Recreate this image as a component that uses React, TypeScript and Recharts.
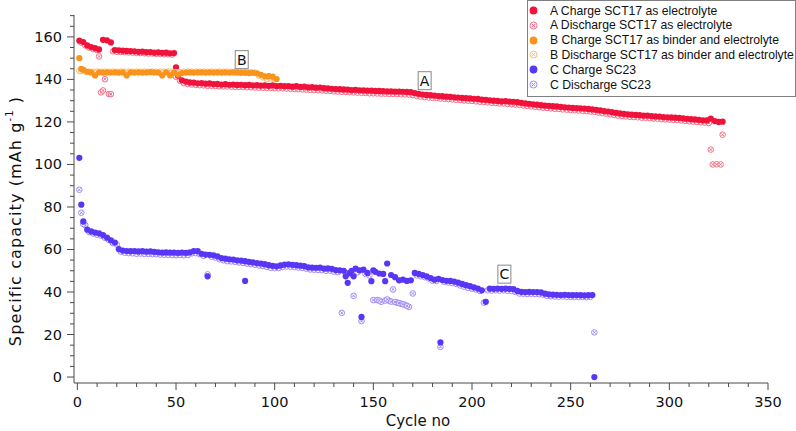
import { ScatterChart, Scatter, XAxis, YAxis, ReferenceDot } from 'recharts';

// x ticks every 10 cycles (labels every 50), y ticks every 5 (labels every 20)
const xTicks = [0, 10, 20, 30, 40, 50, 60, 70, 80, 90, 100, 110, 120, 130, 140, 150, 160, 170, 180, 190, 200, 210, 220, 230, 240, 250, 260, 270, 280, 290, 300, 310, 320, 330, 340, 350];
const yTicks = [0, 5, 10, 15, 20, 25, 30, 35, 40, 45, 50, 55, 60, 65, 70, 75, 80, 85, 90, 95, 100, 105, 110, 115, 120, 125, 130, 135, 140, 145, 150, 155, 160, 165, 170];

// Charge values are read at odd cycles (1, 3, 5 ...), discharge at even cycles (2, 4, 6 ...)
const aCharge = [
  158.2, 157.6, 156.0, 155.2, 154.7, 154.1, 158.6, 158.4, 157.4, 153.8,
  153.7, 153.5, 153.4, 153.3, 153.2, 153.0, 153.1, 152.8, 152.9, 152.6,
  152.7, 152.5, 152.6, 152.3, 152.4, 141.8, 139.6, 139.0, 138.6, 138.5,
  138.2, 138.3, 138.0, 138.1, 137.8, 137.9, 137.6, 137.8, 137.5, 137.6,
  137.4, 137.5, 137.3, 137.4, 137.2, 137.3, 137.1, 137.2, 137.0, 137.2,
  136.9, 137.0, 136.8, 136.9, 136.6, 136.8, 136.5, 136.6, 136.3, 136.4,
  136.1, 136.2, 135.9, 135.8, 135.6, 135.5, 135.4, 135.3, 135.2, 135.0,
  135.1, 134.9, 134.8, 134.7, 134.7, 134.6, 134.6, 134.5, 134.4, 134.4,
  134.3, 134.3, 134.2, 134.1, 134.0, 133.6, 133.2, 132.9, 132.7, 132.6,
  132.4, 132.2, 132.1, 131.9, 131.8, 131.6, 131.5, 131.3, 131.2, 131.1,
  130.9, 130.8, 130.5, 130.4, 130.2, 130.0, 129.9, 129.7, 129.8, 129.6,
  129.5, 129.3, 129.0, 128.7, 128.5, 128.3, 128.1, 127.9, 127.7, 127.6,
  127.4, 127.3, 127.1, 126.9, 126.8, 126.6, 126.5, 126.4, 126.3, 126.1,
  125.9, 125.7, 125.4, 125.1, 124.9, 124.6, 124.3, 124.0, 123.8, 123.6,
  123.4, 123.3, 123.2, 123.0, 123.0, 122.8, 122.6, 122.5, 122.3, 122.2,
  122.1, 122.0, 121.9, 121.7, 121.5, 121.3, 121.2, 121.0, 120.8, 120.7,
  121.6, 120.4, 120.0,
];
const aChargeExtra = [[50, 145.7], [327, 120.1]];

const aDischarge = [
  157.3, 156.0, 155.0, 154.3, 153.8, 133.9, 140.1, 133.1, 153.2, 153.0,
  152.9, 152.8, 152.7, 152.6, 152.5, 152.4, 152.3, 152.2, 152.2, 152.0,
  152.0, 151.9, 151.8, 151.7, 141.3, 139.4, 138.2, 137.8, 137.6, 137.4,
  137.3, 137.2, 137.0, 137.0, 136.9, 136.8, 136.7, 136.7, 136.6, 136.5,
  136.5, 136.4, 136.3, 136.3, 136.2, 136.1, 136.1, 136.0, 136.0, 135.9,
  135.8, 135.8, 135.7, 135.6, 135.5, 135.4, 135.3, 135.2, 135.1, 135.0,
  134.9, 134.8, 134.7, 134.6, 134.4, 134.3, 134.2, 134.1, 134.0, 133.9,
  133.8, 133.7, 133.6, 133.5, 133.5, 133.4, 133.3, 133.3, 133.2, 133.2,
  133.1, 133.0, 133.0, 132.9, 132.6, 132.2, 131.9, 131.7, 131.5, 131.3,
  131.2, 131.0, 130.9, 130.7, 130.6, 130.4, 130.3, 130.1, 130.0, 129.9,
  129.7, 129.5, 129.4, 129.2, 129.0, 128.9, 128.7, 128.7, 128.5, 128.4,
  128.2, 128.0, 127.7, 127.5, 127.3, 127.1, 126.9, 126.7, 126.6, 126.4,
  126.2, 126.1, 125.9, 125.8, 125.6, 125.5, 125.4, 125.2, 125.1, 124.9,
  124.7, 124.4, 124.1, 123.9, 123.6, 123.3, 123.0, 122.8, 122.6, 122.4,
  122.3, 122.2, 122.0, 122.0, 121.8, 121.6, 121.5, 121.3, 121.2, 121.1,
  121.0, 120.9, 120.7, 120.5, 120.3, 120.2, 120.0, 119.8, 119.7, 119.5,
  100.0, 100.1, 100.0,
];
const aDischargeExtra = [[11, 150.8], [13, 134.8], [17, 133.1], [321, 107.0], [327, 114.0]];

const bCharge = [
  150.0, 144.5, 143.6, 143.3, 141.9, 143.3, 143.2, 143.3, 143.2, 143.3,
  143.2, 143.3, 141.9, 143.3, 143.2, 143.3, 143.2, 143.3, 143.4, 143.3,
  143.2, 141.9, 143.3, 141.9, 143.2, 142.3, 143.0, 143.2, 143.3, 143.2,
  143.3, 143.3, 143.2, 143.3, 143.2, 143.3, 143.2, 143.3, 143.2, 143.3,
  143.2, 143.1, 143.1, 143.0, 143.1, 142.9, 142.2, 141.5, 141.6, 141.3,
  140.2,
];
const bChargeExtra = [[2, 145.0]];

const bDischarge = [
  143.9, 143.7, 143.7, 143.6, 143.7, 143.6, 143.7, 143.6, 143.7, 143.6,
  143.7, 143.6, 143.7, 143.6, 143.7, 143.6, 143.7, 143.6, 143.7, 143.6,
  143.7, 143.6, 143.7, 143.6, 143.5, 143.4, 143.6, 143.7, 143.6, 143.7,
  143.6, 143.7, 143.6, 143.7, 143.6, 143.7, 143.6, 143.7, 143.6, 143.6,
  143.5, 143.5, 143.4, 143.4, 143.2, 141.8, 141.0, 140.2, 140.5, 140.0,
];
const bDischargeExtra = [[1, 144.0]];

const cCharge = [
  103.1, 73.2, 69.3, 68.5, 68.0, 67.6, 66.8, 65.6, 64.3, 63.3,
  60.2, 59.5, 59.3, 59.2, 59.3, 59.1, 59.2, 59.0, 59.1, 58.9,
  58.7, 58.5, 58.6, 58.5, 58.5, 58.4, 58.5, 58.4, 58.6, 59.3,
  59.2, 58.0, 57.6, 57.5, 57.3, 56.8, 56.0, 55.7, 55.4, 55.3,
  54.9, 54.8, 54.5, 54.2, 53.9, 53.6, 53.4, 53.1, 52.6, 52.3,
  52.1, 52.5, 52.9, 53.0, 52.8, 52.6, 52.4, 52.2, 51.6, 51.5,
  51.4, 51.5, 51.0, 51.1, 50.9, 50.3, 50.2, 50.0, 44.3, 50.0,
  51.0, 50.2, 50.5, 49.0, 45.1, 49.5, 48.7, 48.5, 53.4, 48.0,
  47.0, 45.5, 45.8, 45.2, 45.5, 49.0, 48.5, 48.0, 47.4, 46.6,
  45.8, 46.2, 45.6, 45.3, 45.2, 44.9, 44.4, 43.8, 43.2, 42.8,
  42.2, 41.6, 40.8, 35.4, 41.6, 41.5, 41.6, 41.5, 41.6, 41.5,
  41.4, 40.5, 40.1, 40.0, 40.1, 40.0, 40.0, 39.8, 39.2, 38.9,
  38.8, 38.7, 38.6, 38.7, 38.6, 38.5, 38.6, 38.5, 38.4, 38.5,
  38.6,
];
const cChargeExtra = [[2, 81.1], [66, 47.4], [85, 45.2], [136, 47.4], [138, 49.0], [140, 47.4], [144, 28.3], [150, 50.2], [156, 45.1], [184, 16.3], [262, 0]];

const cDischarge = [
  77.3, 71.5, 68.2, 67.5, 67.0, 66.5, 65.5, 64.5, 63.0, 62.3,
  59.0, 58.5, 58.3, 58.2, 58.0, 58.1, 57.9, 57.9, 57.8, 57.8,
  57.6, 57.5, 57.5, 57.4, 57.3, 57.4, 57.3, 57.4, 58.2, 58.3,
  57.8, 57.0, 48.3, 56.6, 56.2, 55.4, 54.9, 54.5, 54.4, 54.2,
  53.9, 53.7, 53.4, 53.1, 52.8, 52.5, 52.2, 51.8, 51.4, 51.2,
  51.3, 51.8, 52.0, 51.9, 51.7, 51.5, 51.3, 51.0, 50.6, 50.5,
  50.4, 50.3, 50.0, 50.1, 49.6, 49.3, 30.2, 48.8, 48.5, 38.2,
  49.3, 26.3, 48.5, 47.8, 36.2, 36.2, 35.4, 36.0, 35.9, 41.2,
  35.0, 34.5, 34.0, 33.0, 39.3, 47.8, 47.4, 47.0, 46.4, 45.3,
  45.2, 14.2, 44.8, 44.5, 44.2, 43.8, 43.1, 42.5, 42.0, 41.6,
  41.2, 40.5, 35.0, 40.8, 40.7, 40.8, 40.7, 40.8, 40.6, 40.5,
  40.0, 39.3, 39.2, 39.1, 39.2, 39.1, 39.0, 38.8, 38.2, 38.0,
  37.9, 37.8, 37.9, 37.8, 37.7, 37.7, 37.6, 37.7, 37.6, 37.7,
];
const cDischargeExtra = [[1, 88.1], [3, 72.0], [153, 36.0], [157, 36.5], [159, 35.5], [161, 35.3], [163, 34.8], [165, 34.2], [167, 33.5], [262, 21.0]];

const legendLabels = [
  'A Charge SCT17 as electrolyte',
  'A Discharge SCT17 as electrolyte',
  'B Charge SCT17 as binder and electrolyte',
  'B Discharge SCT17 as binder and electrolyte',
  'C Charge SC23',
  'C Discharge SC23',
];

const RED = '#f0123a';
const PINK = '#f26f88';
const ORANGE = '#f8931c';
const LIGHT_ORANGE = '#fbbc72';
const BLUE = '#5936f5';
const LAVENDER = '#a189f6';
const AXIS = '#4a4a4a';
const FONT = '"DejaVu Sans", sans-serif';

const legendColors = [RED, PINK, ORANGE, LIGHT_ORANGE, BLUE, LAVENDER];

const seq = (start: number, values: number[]) => values.map((y, i) => ({ x: start + 2 * i, y }));
const pairs = (list: number[][]) => list.map(([x, y]) => ({ x, y }));

const aChargeData = [...seq(1, aCharge), ...pairs(aChargeExtra)];
const aDischargeData = [...seq(2, aDischarge), ...pairs(aDischargeExtra)];
const bChargeData = [...seq(1, bCharge), ...pairs(bChargeExtra)];
const bDischargeData = [...seq(2, bDischarge), ...pairs(bDischargeExtra)];
const cChargeData = [...seq(1, cCharge), ...pairs(cChargeExtra)];
const cDischargeData = [...seq(2, cDischarge), ...pairs(cDischargeExtra)];

const dot = (color: string) => (props: any) => (
  <circle cx={props.cx} cy={props.cy} r={3.1} fill={color} />
);

const ring = (color: string) => (props: any) => {
  const { cx, cy } = props;
  return (
    <g stroke={color} strokeWidth={1} fill="none">
      <circle cx={cx} cy={cy} r={2.8} fill="#fff" fillOpacity={0.6} />
      <line x1={cx - 1.3} y1={cy - 1.3} x2={cx + 1.3} y2={cy + 1.3} />
      <line x1={cx - 1.3} y1={cy + 1.3} x2={cx + 1.3} y2={cy - 1.3} />
    </g>
  );
};

const XTick = (props: any) => {
  const { x, y, payload } = props;
  const major = payload.value % 50 === 0;
  return (
    <g>
      <line x1={x} x2={x} y1={y} y2={y + (major ? 7 : 4)} stroke={AXIS} />
      {major && (
        <text x={x} y={y + 24} textAnchor="middle" fontFamily={FONT} fontSize={14.5} fill="#111">
          {payload.value}
        </text>
      )}
    </g>
  );
};

const YTick = (props: any) => {
  const { x, y, payload } = props;
  const major = payload.value % 20 === 0;
  return (
    <g>
      <line x1={x} x2={x - (major ? 7 : 4)} y1={y} y2={y} stroke={AXIS} />
      {major && (
        <text x={x - 12} y={y + 5} textAnchor="end" fontFamily={FONT} fontSize={14.5} fill="#111">
          {payload.value}
        </text>
      )}
    </g>
  );
};

const YTitle = () => (
  <text
    transform="translate(21, 221) rotate(-90)"
    textAnchor="middle"
    fontFamily={FONT}
    fontSize={16}
    letterSpacing={1.1}
    fill="#111"
  >
    Specific capacity (mAh g
    <tspan fontSize={10} dy={-8}>-1</tspan>
    <tspan dy={8}> )</tspan>
  </text>
);

const XTitle = () => (
  <text x={418} y={426} textAnchor="middle" fontFamily={FONT} fontSize={15} fill="#111">
    Cycle no
  </text>
);

const tag = (letter: string) => (props: any) => {
  const { cx, cy } = props;
  return (
    <g>
      <rect x={cx - 6.5} y={cy - 9} width={13} height={18} fill="#fff" stroke="#888" strokeWidth={1} />
      <text x={cx} y={cy + 5} textAnchor="middle" fontFamily={FONT} fontSize={14} fill="#111">
        {letter}
      </text>
    </g>
  );
};

const LegendBox = () => (
  <div
    style={{
      position: 'absolute',
      left: 527,
      top: 0,
      width: 267,
      height: 95,
      border: '1px solid #808080',
      background: '#fff',
      fontFamily: '"Liberation Sans", Arial, sans-serif',
      fontSize: 12.2,
      color: '#111',
    }}
  >
    {legendLabels.map((label, i) => (
      <div key={label} style={{ position: 'absolute', left: 0, top: 2 + i * 14.8, height: 15, display: 'flex', alignItems: 'center' }}>
        <svg width={22} height={15}>
          {i % 2 === 0 ? (
            <circle cx={5.5} cy={7.5} r={3.9} fill={legendColors[i]} />
          ) : (
            <g stroke={legendColors[i]} strokeWidth={1} fill="none">
              <circle cx={5.5} cy={7.5} r={3.5} />
              <line x1={3.8} y1={5.8} x2={7.2} y2={9.2} />
              <line x1={3.8} y1={9.2} x2={7.2} y2={5.8} />
            </g>
          )}
        </svg>
        <span style={{ whiteSpace: 'nowrap' }}>{label}</span>
      </div>
    ))}
  </div>
);

export default function App() {
  return (
    <div style={{ position: 'absolute', left: 0, top: 0, width: 796, height: 431, background: '#fff' }}>
      <ScatterChart width={796} height={431} margin={{ top: 15, right: 28, bottom: 0, left: 0 }}>
        <XAxis
          type="number"
          dataKey="x"
          domain={[-1.7, 350]}
          ticks={xTicks}
          interval={0}
          allowDataOverflow
          height={48}
          axisLine={{ stroke: AXIS }}
          tickLine={false}
          tickSize={0}
          tickMargin={0}
          tick={<XTick />}
          label={<XTitle />}
        />
        <YAxis
          type="number"
          dataKey="y"
          domain={[-2.8, 170.3]}
          ticks={yTicks}
          interval={0}
          allowDataOverflow
          width={74}
          axisLine={{ stroke: AXIS }}
          tickLine={false}
          tickSize={0}
          tickMargin={0}
          tick={<YTick />}
          label={<YTitle />}
        />
        <Scatter data={aDischargeData} shape={ring(PINK)} isAnimationActive={false} />
        <Scatter data={aChargeData} shape={dot(RED)} isAnimationActive={false} />
        <Scatter data={bDischargeData} shape={ring(LIGHT_ORANGE)} isAnimationActive={false} />
        <Scatter data={bChargeData} shape={dot(ORANGE)} isAnimationActive={false} />
        <Scatter data={cDischargeData} shape={ring(LAVENDER)} isAnimationActive={false} />
        <Scatter data={cChargeData} shape={dot(BLUE)} isAnimationActive={false} />
        <ReferenceDot x={176} y={139.4} r={0} shape={tag('A')} />
        <ReferenceDot x={83.3} y={149.3} r={0} shape={tag('B')} />
        <ReferenceDot x={216.4} y={48.4} r={0} shape={tag('C')} />
      </ScatterChart>
      <LegendBox />
    </div>
  );
}
